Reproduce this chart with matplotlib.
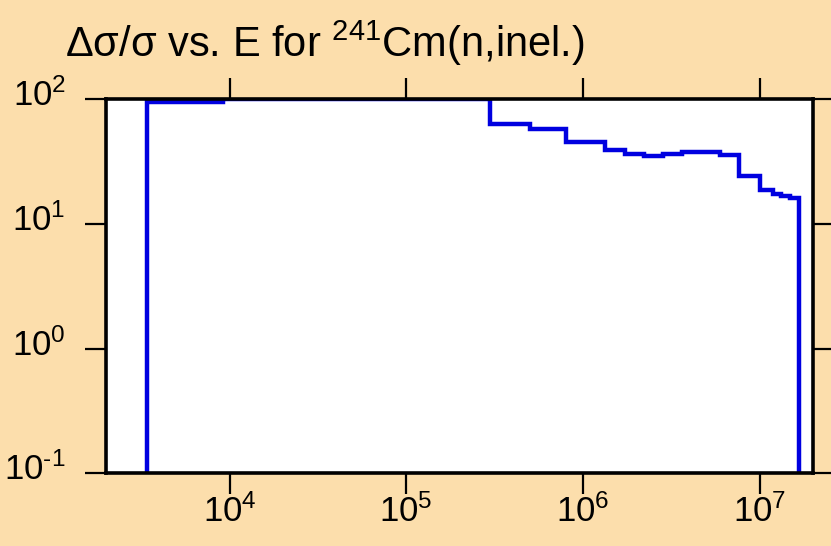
import numpy as np
import matplotlib
matplotlib.use("Agg")
import matplotlib.pyplot as plt
from matplotlib.transforms import ScaledTranslation

plt.rcParams["font.family"] = ["Liberation Sans", "DejaVu Sans"]
plt.rcParams["mathtext.fontset"] = "custom"
plt.rcParams["mathtext.rm"] = "Liberation Sans"
plt.rcParams["mathtext.it"] = "Liberation Sans:italic"
plt.rcParams["mathtext.bf"] = "Liberation Sans:bold"
plt.rcParams["axes.unicode_minus"] = False

# group boundaries (eV) and relative uncertainty (%) per group
edges = [3.4e3, 9.2e3, 3.0e5, 5.0e5, 8.0e5, 1.34e6, 1.73e6, 2.22e6, 2.84e6,
         3.66e6, 6.0e6, 7.7e6, 1.0e7, 1.19e7, 1.33e7, 1.49e7, 1.68e7]
rel_unc = [94.4, 100.0, 63.0, 57.4, 45.4, 39.2, 36.8, 35.3, 36.2,
           38.0, 35.5, 24.1, 18.6, 17.3, 16.9, 16.3]

x_ticks = [1e4, 1e5, 1e6, 1e7]
x_labels = ["10$^{4}$", "10$^{5}$", "10$^{6}$", "10$^{7}$"]
y_ticks = [0.1, 1, 10, 100]
y_labels = ["10$^{\\text{-}1}$", "10$^{0}$", "10$^{1}$", "10$^{2}$"]

bg = "#fcdeac"

fig = plt.figure(figsize=(8.31, 5.46), dpi=100, facecolor=bg)
ax = fig.add_axes([0.1276, 0.1328, 0.978 - 0.1276, 0.818 - 0.1328])
ax.set_facecolor("white")

ax.stairs(rel_unc, edges, baseline=1e-3, color="#0000e0", linewidth=3.2)

ax.set_xscale("log")
ax.set_yscale("log")
ax.set_xlim(2e3, 2e7)
ax.set_ylim(0.1, 100)

ax.set_xticks(x_ticks, x_labels)
ax.set_yticks(y_ticks, y_labels)
ax.minorticks_off()

for s in ax.spines.values():
    s.set_linewidth(2.6)
    s.set_color("black")

ax.tick_params(axis="both", which="major", direction="out", length=15,
               width=1.6, labelsize=25, color="black",
               top=True, right=True, labeltop=False, labelright=False)
ax.tick_params(axis="x", pad=0)
ax.tick_params(axis="y", pad=14)

# keep the mantissa of y labels level with the tick (superscript sits above)
shift = ScaledTranslation(0, 5 / 72, fig.dpi_scale_trans)
for lab in ax.get_yticklabels():
    lab.set_transform(lab.get_transform() + shift)

fig.text(0.078, 0.895, "Δσ/σ vs. E for $^{241}$Cm(n,inel.)", fontsize=30,
         ha="left", va="baseline", color="black")

fig.savefig("out.png", dpi=100, facecolor=bg)
